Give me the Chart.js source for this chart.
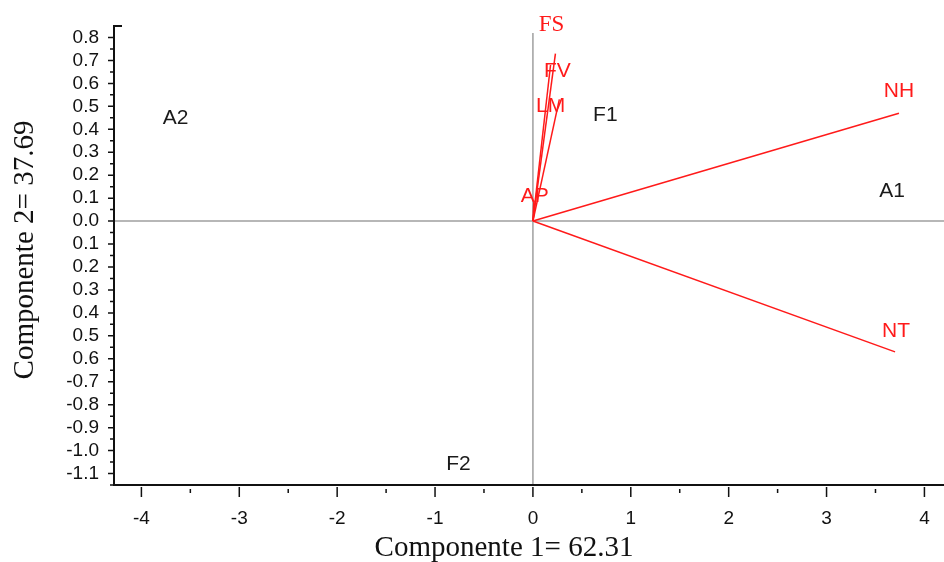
<!DOCTYPE html>
<html>
<head>
<meta charset="utf-8">
<script src="https://cdn.jsdelivr.net/npm/chart.js@4"></script>
<style>
  body { margin: 0; background: #fff; }
  canvas { display: block; }
</style>
</head>
<body>
<canvas id="myChart" width="944" height="562"></canvas>
<script>
// variable vectors (loadings), drawn from the origin
const varNames = ["NH", "NT", "FS", "FV", "LM", "AP"];
const varX = [3.74, 3.70, 0.23, 0.18, 0.27, 0.01];
const varY = [0.47, -0.57, 0.73, 0.68, 0.53, 0.09];
const varLabelX = [3.74, 3.71, 0.19, 0.25, 0.18, 0.02];
const varLabelY = [0.565, -0.478, 0.854, 0.652, 0.50, 0.107];

// observations (scores)
const obsNames = ["A1", "A2", "F1", "F2"];
const obsX = [3.67, -3.65, 0.74, -0.76];
const obsY = [0.13, 0.45, 0.46, -1.06];

// axis ticks
const xTicks = [-4, -3, -2, -1, 0, 1, 2, 3, 4];
const xTickLabels = ["-4", "-3", "-2", "-1", "0", "1", "2", "3", "4"];
const yTicks = [-1.1, -1.0, -0.9, -0.8, -0.7, -0.6, -0.5, -0.4, -0.3, -0.2, -0.1,
                0.0, 0.1, 0.2, 0.3, 0.4, 0.5, 0.6, 0.7, 0.8];
const yTickLabels = ["-1.1", "-1.0", "-0.9", "-0.8", "-0.7", "0.6", "0.5", "0.4", "0.3", "0.2", "0.1",
                     "0.0", "0.1", "0.2", "0.3", "0.4", "0.5", "0.6", "0.7", "0.8"];

const xTitle = "Componente 1= 62.31";
const yTitle = "Componente 2= 37.69";

const red = "#ff1a1a";

const datasets = varNames.map((n, i) => ({
  label: n,
  data: [{x: 0, y: 0}, {x: varX[i], y: varY[i]}],
  showLine: true,
  borderColor: red,
  borderWidth: 1.5,
  pointRadius: 0
}));
datasets.push({
  label: "obs",
  data: obsX.map((v, i) => ({x: v, y: obsY[i]})),
  showLine: false,
  pointRadius: 0
});

const biplotDecor = {
  id: "biplotDecor",
  beforeDatasetsDraw(chart) {
    const {ctx, chartArea: a, scales: {x, y}} = chart;
    ctx.save();
    ctx.strokeStyle = "#a0a0a0";
    ctx.lineWidth = 1.5;
    ctx.beginPath();
    ctx.moveTo(a.left, y.getPixelForValue(0));
    ctx.lineTo(a.right, y.getPixelForValue(0));
    ctx.moveTo(x.getPixelForValue(0), y.getPixelForValue(0.82));
    ctx.lineTo(x.getPixelForValue(0), a.bottom);
    ctx.stroke();
    ctx.restore();
  },
  afterDraw(chart) {
    const {ctx, chartArea: a, scales: {x, y}} = chart;
    ctx.save();
    // axes
    ctx.strokeStyle = "#111";
    ctx.lineWidth = 2;
    ctx.beginPath();
    ctx.moveTo(a.left + 8, a.top);
    ctx.lineTo(a.left, a.top);
    ctx.lineTo(a.left, a.bottom);
    ctx.lineTo(a.right, a.bottom);
    ctx.stroke();
    // y ticks, major + minor
    ctx.lineWidth = 1.5;
    ctx.beginPath();
    yTicks.forEach(v => {
      const py = y.getPixelForValue(v);
      ctx.moveTo(a.left - 6, py); ctx.lineTo(a.left, py);
      const pm = y.getPixelForValue(v + 0.05);
      if (v + 0.05 < 0.85) { ctx.moveTo(a.left - 4, pm); ctx.lineTo(a.left, pm); }
    });
    const pLow = y.getPixelForValue(-1.15);
    ctx.moveTo(a.left - 4, pLow); ctx.lineTo(a.left, pLow);
    // x ticks
    xTicks.forEach(v => {
      const px = x.getPixelForValue(v);
      ctx.moveTo(px, a.bottom + 2); ctx.lineTo(px, a.bottom + 12);
      const pm = x.getPixelForValue(v + 0.5);
      if (v + 0.5 < x.max) { ctx.moveTo(pm, a.bottom + 4); ctx.lineTo(pm, a.bottom + 8); }
    });
    ctx.stroke();

    // variable labels
    ctx.textAlign = "center";
    ctx.textBaseline = "middle";
    ctx.fillStyle = red;
    varNames.forEach((n, i) => {
      ctx.font = n === "FS" ? "23px 'Liberation Serif'" : "21px 'Liberation Sans'";
      ctx.fillText(n, x.getPixelForValue(varLabelX[i]), y.getPixelForValue(varLabelY[i]));
    });
    // observation labels
    ctx.fillStyle = "#1a1a1a";
    ctx.font = "21px 'Liberation Sans'";
    obsNames.forEach((n, i) => {
      ctx.fillText(n, x.getPixelForValue(obsX[i]), y.getPixelForValue(obsY[i]));
    });

    // axis titles
    ctx.font = "29px 'Liberation Serif'";
    ctx.fillStyle = "#111";
    ctx.fillText(xTitle, 504, 548);
    ctx.translate(25, 250);
    ctx.rotate(-Math.PI / 2);
    ctx.fillText(yTitle, 0, 0);
    ctx.restore();
  }
};

new Chart("myChart", {
  type: "scatter",
  data: {datasets: datasets},
  options: {
    responsive: false,
    animation: false,
    layout: {padding: {top: 26, right: 0, left: 0, bottom: 0}},
    plugins: {legend: {display: false}, tooltip: {enabled: false}},
    scales: {
      x: {
        type: "linear",
        min: -4.28,
        max: 4.2,
        afterBuildTicks: s => { s.ticks = xTicks.map(v => ({value: v})); },
        afterFit: s => { s.height = 77; },
        grid: {display: false, drawTicks: true, tickLength: 12},
        border: {display: false},
        ticks: {
          color: "#111",
          padding: 10,
          maxRotation: 0,
          autoSkip: false,
          font: {family: "Liberation Sans", size: 19},
          callback: (val, idx) => xTickLabels[idx]
        }
      },
      y: {
        type: "linear",
        min: -1.15,
        max: 0.85,
        afterBuildTicks: s => { s.ticks = yTicks.map(v => ({value: v})); },
        afterFit: s => { s.width = 114; },
        grid: {display: false, drawTicks: true, tickLength: 8},
        border: {display: false},
        ticks: {
          color: "#111",
          padding: 7,
          autoSkip: false,
          font: {family: "Liberation Sans", size: 19},
          callback: (val, idx) => yTickLabels[idx]
        }
      }
    }
  },
  plugins: [biplotDecor]
});
</script>
</body>
</html>
